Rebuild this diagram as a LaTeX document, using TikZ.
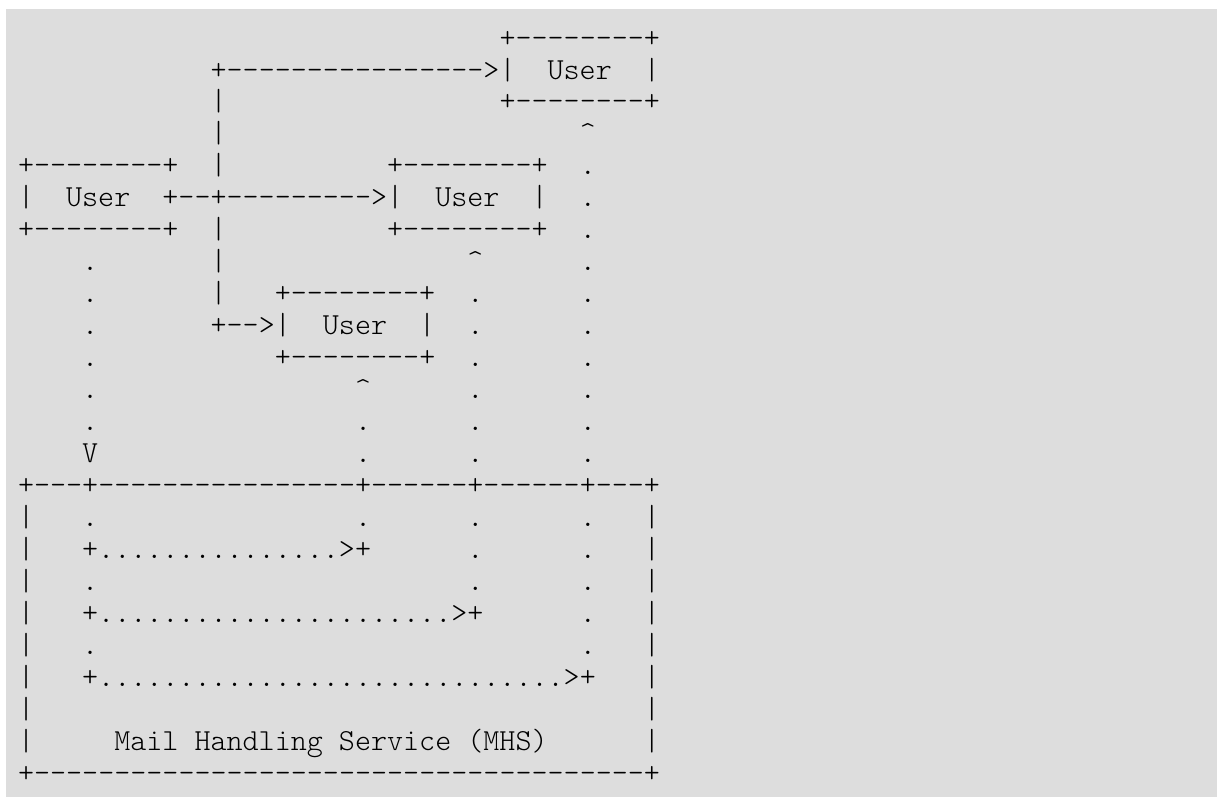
\documentclass[tikz,border=0pt]{standalone}
\usepackage{fontspec}
\usepackage{tikz}
\newfontfamily\asciifont{lmmonolt10-regular.otf}
\definecolor{panelgray}{RGB}{221,221,221}
% one column of the character grid
\newcommand{\sk}[1]{\hskip #1\dimexpr 0.525em\relax}
\tikzset{
    ascii/.style={anchor=base west, inner sep=0pt, outer sep=0pt,
        font=\asciifont\fontsize{22.93pt}{24pt}\selectfont\frenchspacing}
}

\begin{document}
\begin{tikzpicture}[x=0.75pt,y=-0.75pt]
    \useasboundingbox (0,0) rectangle (1217,797);
    \fill[white] (0,0) rectangle (1217,797);
    \fill[panelgray] (6,9) rectangle (1217,797);

    %Users
    \node[ascii] (ln1) at (499.5,47) {+--------+};
    \node[ascii] (ln2) at (210.6,79) {+---------------->|\sk2User\sk2|};
    \node[ascii] (ln3) at (210.6,110.9) {|\sk{17}+--------+};
    \node[ascii] (ln4) at (210.6,142.9) {|\sk{22}\textasciicircum};
    \node[ascii] (ln5) at (18,174.8) {+--------+\sk2|\sk{10}+--------+\sk2.};
    \node[ascii] (ln6) at (18,206.8) {|\sk2User\sk2+--+--------->|\sk2User\sk2|\sk2.};
    \node[ascii] (ln7) at (18,238.8) {+--------+\sk2|\sk{10}+--------+\sk2.};
    \node[ascii] (ln8) at (82.2,270.7) {.\sk7|\sk{15}\textasciicircum\sk6.};
    \node[ascii] (ln9) at (82.2,302.7) {.\sk7|\sk3+--------+\sk2.\sk6.};
    \node[ascii] (ln10) at (82.2,334.6) {.\sk7+-->|\sk2User\sk2|\sk2.\sk6.};
    \node[ascii] (ln11) at (82.2,366.6) {.\sk{11}+--------+\sk2.\sk6.};
    \node[ascii] (ln12) at (82.2,398.6) {.\sk{16}\textasciicircum\sk6.\sk6.};
    \node[ascii] (ln13) at (82.2,430.5) {.\sk{16}.\sk6.\sk6.};
    \node[ascii] (ln14) at (82.2,462.5) {V\sk{16}.\sk6.\sk6.};

    %Mail Handling Service
    \node[ascii] (ln15) at (18,494.4) {+---+----------------+------+------+---+};
    \node[ascii] (ln16) at (18,526.4) {|\sk3.\sk{16}.\sk6.\sk6.\sk3|};
    \node[ascii] (ln17) at (18,558.4) {|\sk3+...............>+\sk6.\sk6.\sk3|};
    \node[ascii] (ln18) at (18,590.3) {|\sk3.\sk{23}.\sk6.\sk3|};
    \node[ascii] (ln19) at (18,622.3) {|\sk3+......................>+\sk6.\sk3|};
    \node[ascii] (ln20) at (18,654.2) {|\sk3.\sk{30}.\sk3|};
    \node[ascii] (ln21) at (18,686.2) {|\sk3+.............................>+\sk3|};
    \node[ascii] (ln22) at (18,718.2) {|\sk{38}|};
    \node[ascii] (ln23) at (18,750.1) {|\sk5Mail Handling Service (MHS)\sk6|};
    \node[ascii] (ln24) at (18,782.1) {+--------------------------------------+};
\end{tikzpicture}
\end{document}
